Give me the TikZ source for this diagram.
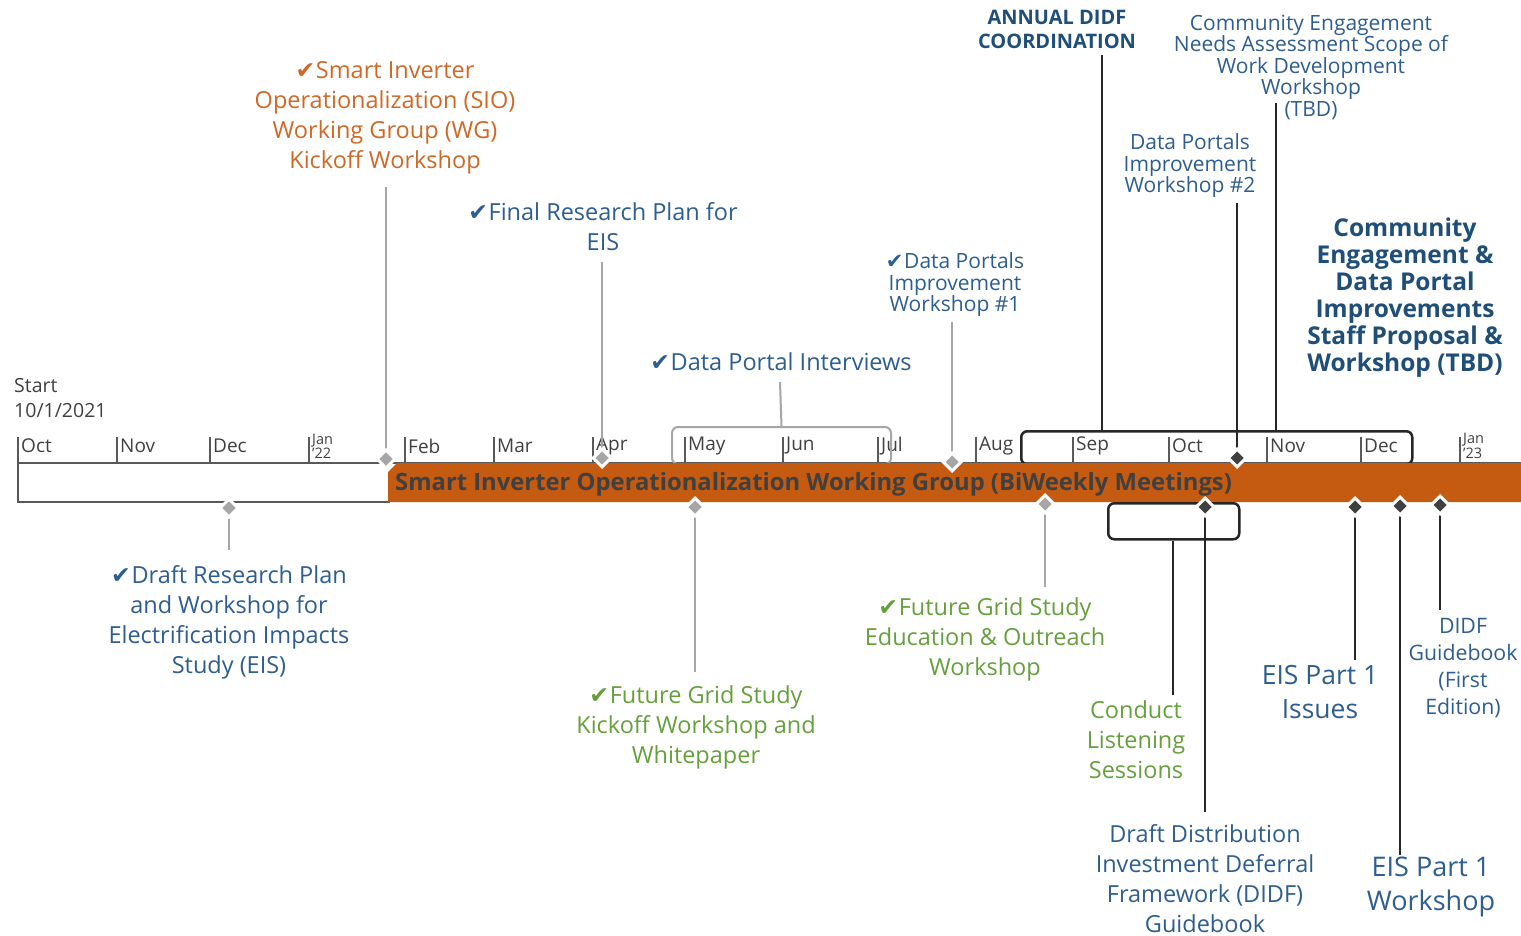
\documentclass[tikz,border=0pt]{standalone}
\usepackage{fontspec}
\setmainfont{Open Sans}
\newfontfamily\symfont{DejaVu Sans}
\usetikzlibrary{shapes.geometric}
\newcommand\ck{{\symfont\char"2714}\hspace{0.03em}}
\definecolor{orng}{HTML}{C55A11}
\definecolor{orngtxt}{HTML}{D06825}
\definecolor{bluetxt}{HTML}{2D5E8F}
\definecolor{dblue}{HTML}{1F4E79}
\definecolor{grn}{HTML}{66A03C}
\definecolor{dgray}{HTML}{404040}
\definecolor{axisgray}{HTML}{595959}
\definecolor{conngray}{HTML}{A6A6A6}
\definecolor{connblack}{HTML}{262626}
\tikzset{
  lbl/.style={align=center, inner sep=0pt, font=\fontsize{23.5}{30}\selectfont},
  smalllbl/.style={align=center, inner sep=0pt, font=\fontsize{21}{21.5}\selectfont},
  month/.style={inner sep=0pt, anchor=west, text=dgray, font=\fontsize{19}{20}\selectfont},
  tickline/.style={draw=axisgray, line width=1.5pt},
  gconn/.style={draw=conngray, line width=2pt},
  bconn/.style={draw=connblack, line width=2.5pt},
  gdia/.style={diamond, inner sep=0pt, minimum size=19pt, fill=conngray, draw=white, line width=3pt},
  bdia/.style={diamond, inner sep=0pt, minimum size=19pt, fill=dgray, draw=white, line width=3pt},
  gbracket/.style={draw=conngray, line width=2pt, rounded corners=6pt},
  bbracket/.style={draw=connblack, line width=2.5pt, rounded corners=6pt},
}
\begin{document}
\begin{tikzpicture}[x=1pt,y=-1pt]
\useasboundingbox (0,0) rectangle (1521,936);
\fill[white] (0,0) rectangle (1521,936);

% axis
\draw[draw=axisgray, line width=2pt] (18,437) -- (18,502) -- (390,502);
\draw[draw=axisgray, line width=2pt] (18,463) -- (1521,463);
\foreach \x/\m in {18/Oct,117/Nov,210/Dec,405/Feb,494/Mar,593/Apr,685/May,783/Jun,878/Jul,976/Aug,1073/Sep,1169/Oct,1267/Nov,1361/Dec}{
  \draw[tickline] (\x,437) -- (\x,463);
  \node[month] (m\x) at (\x+3,446) {\m};
}
\foreach \x/\y in {309/22,1460/23}{
  \draw[tickline] (\x,437) -- (\x,463);
  \node[month, align=left, font=\fontsize{14.5}{12}\selectfont] (j\x) at (\x+3,446) {Jan\\'\y};
}
\node[inner sep=0pt, anchor=west, align=left, text=dgray, font=\fontsize{19.5}{25}\selectfont] (start) at (14,398) {Start\\10/1/2021};

% brackets
\node[gbracket, minimum width=219pt, minimum height=37pt, anchor=north west] (brA) at (671,426) {};
\node[bbracket, minimum width=391pt, minimum height=33pt, anchor=north west] (brB) at (1020,430) {};

% orange bar
\fill[orng] (388,472) -- (397,463) -- (1521,463) -- (1521,502) -- (388,502) -- cycle;
\node[inner sep=0pt, anchor=west, text=dgray, font=\bfseries\fontsize{23.8}{26}\selectfont] (bar) at (395,484) {Smart Inverter Operationalization Working Group (BiWeekly Meetings)};

\node[bbracket, minimum width=131pt, minimum height=36pt, anchor=north west] (brC) at (1107,502) {};

% labels
\node[lbl, text=orngtxt] (sio) at (385,118) {\ck Smart Inverter\\Operationalization (SIO)\\Working Group (WG)\\Kickoff Workshop};
\node[lbl, text=bluetxt] (frp) at (603,227) {\ck Final Research Plan for\\EIS};
\node[lbl, text=bluetxt] (dpi) at (781,362) {\ck Data Portal Interviews};
\node[smalllbl, text=bluetxt] (dp1) at (955,285) {\ck Data Portals\\Improvement\\Workshop \#1};
\node[smalllbl, text=dblue, font=\bfseries\fontsize{20}{24}\selectfont] (ann) at (1057,29) {ANNUAL DIDF\\COORDINATION};
\node[smalllbl, text=bluetxt] (cen) at (1311,67) {Community Engagement\\Needs Assessment Scope of\\Work Development\\Workshop\\(TBD)};
\node[smalllbl, text=bluetxt] (dp2) at (1190,166) {Data Portals\\Improvement\\Workshop \#2};
\node[lbl, text=dblue, font=\bfseries\fontsize{24.5}{27}\selectfont] (cep) at (1405,298) {Community\\Engagement \&\\Data Portal\\Improvements\\Staff Proposal \&\\Workshop (TBD)};
\node[lbl, text=bluetxt] (drp) at (229,622) {\ck Draft Research Plan\\and Workshop for\\Electrification Impacts\\Study (EIS)};
\node[lbl, text=grn] (fgk) at (696,727) {\ck Future Grid Study\\Kickoff Workshop and\\Whitepaper};
\node[lbl, text=grn] (fge) at (985,639) {\ck Future Grid Study\\Education \& Outreach\\Workshop};
\node[lbl, text=grn] (cls) at (1136,740) {Conduct\\Listening\\Sessions};
\node[lbl, text=bluetxt] (didf) at (1205,879) {Draft Distribution\\Investment Deferral\\Framework (DIDF)\\Guidebook};
\node[lbl, text=bluetxt, font=\fontsize{26.5}{34}\selectfont] (eis1) at (1320,692) {EIS Part 1\\Issues};
\node[lbl, text=bluetxt, font=\fontsize{27}{34}\selectfont] (eisw) at (1431,887) {EIS Part 1\\Workshop};
\node[lbl, text=bluetxt, font=\fontsize{21.3}{27}\selectfont] (dg) at (1463,668) {DIDF\\Guidebook\\(First\\Edition)};

% diamonds positions
\coordinate (pSIO) at (386,459);
\coordinate (pFRP) at (602,458);
\coordinate (pDP1) at (952,462);
\coordinate (pDP2) at (1237,458);
\coordinate (pDRP) at (229,508);
\coordinate (pFGK) at (695,507);
\coordinate (pFGE) at (1045,504);
\coordinate (pDIDF) at (1205,507);
\coordinate (pEIS1) at (1355,507);
\coordinate (pEISW) at (1400,506);
\coordinate (pDG) at (1440,505);

% connector free ends
\coordinate (tSIO) at (386,187);
\coordinate (tFRP) at (602,262);
\coordinate (tDPI) at (780,382);
\coordinate (tDP1) at (952,322);
\coordinate (tANN) at (1102,55);
\coordinate (tDP2) at (1237,203);
\coordinate (tCEN) at (1276,103);
\coordinate (tDRP) at (229,550);
\coordinate (tFGK) at (695,672);
\coordinate (tFGE) at (1045,587);
\coordinate (tCLS) at (1173,695);
\coordinate (tDIDF) at (1205,812);
\coordinate (tEIS1) at (1355,660);
\coordinate (tEISW) at (1400,855);
\coordinate (tDG) at (1440,610);

% connectors
\draw[gconn] (pSIO) -- (tSIO);
\draw[gconn] (pFRP) -- (tFRP);
\draw[gconn] (brA.north) -- (tDPI);
\draw[gconn] (pDP1) -- (tDP1);
\draw[bconn] (brB.north -| tANN) -- (tANN);
\draw[bconn] (pDP2) -- (tDP2);
\draw[bconn] (brB.north -| tCEN) -- (tCEN);
\draw[gconn] (pDRP) -- (tDRP);
\draw[gconn] (pFGK) -- (tFGK);
\draw[gconn] (pFGE) -- (tFGE);
\draw[bconn] (brC.south -| tCLS) -- (tCLS);
\draw[bconn] (pDIDF) -- (tDIDF);
\draw[bconn] (pEIS1) -- (tEIS1);
\draw[bconn] (pEISW) -- (tEISW);
\draw[bconn] (pDG) -- (tDG);

% diamonds
\node[gdia] (dSIO) at (pSIO) {};
\node[gdia] (dFRP) at (pFRP) {};
\node[gdia] (dDP1) at (pDP1) {};
\node[bdia] (dDP2) at (pDP2) {};
\node[gdia] (dDRP) at (pDRP) {};
\node[gdia] (dFGK) at (pFGK) {};
\node[gdia] (dFGE) at (pFGE) {};
\node[bdia] (dDIDF) at (pDIDF) {};
\node[bdia] (dEIS1) at (pEIS1) {};
\node[bdia] (dEISW) at (pEISW) {};
\node[bdia] (dDG) at (pDG) {};
\end{tikzpicture}
\end{document}
